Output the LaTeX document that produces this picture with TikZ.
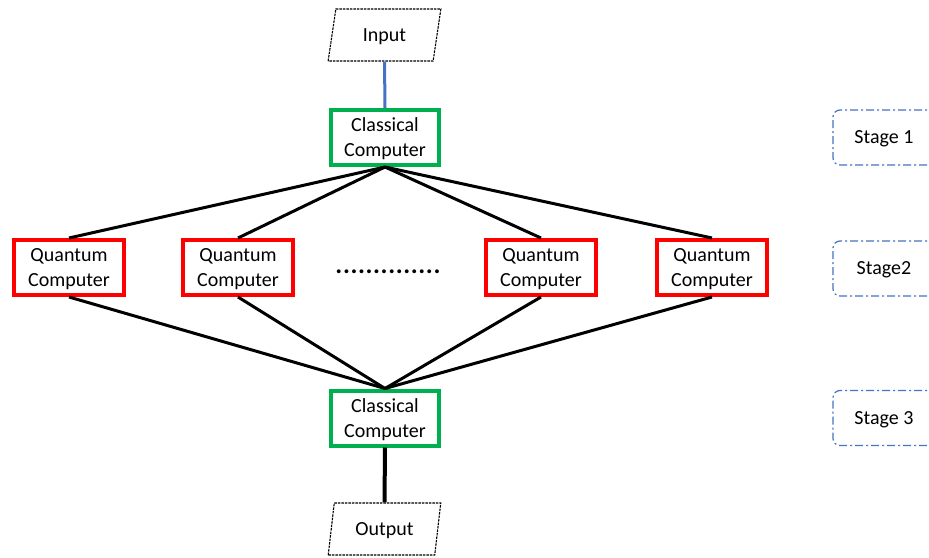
\documentclass[tikz,border=0pt]{standalone}
\usepackage{fontspec}
\setmainfont{Carlito}
\usetikzlibrary{shapes.geometric}
\definecolor{cgreen}{RGB}{0,176,80}
\definecolor{cred}{RGB}{255,0,0}
\definecolor{cblue}{RGB}{68,114,196}
\tikzset{
  txt/.style={font=\fontsize{20}{25}\selectfont, align=center, text depth=0pt},
  classical/.style={txt, draw=cgreen, line width=4pt, minimum width=108pt, minimum height=55pt, inner sep=0pt},
  quantum/.style={txt, draw=cred, line width=4pt, minimum width=110pt, minimum height=55pt, inner sep=0pt},
  iobox/.style={txt, draw=black, dash pattern=on 2.5pt off 1pt, line width=1.1pt, trapezium, trapezium left angle=75, trapezium right angle=105, trapezium stretches=true, minimum width=113pt, minimum height=52pt, inner sep=0pt},
  stagebox/.style={txt, draw=cblue, line width=1.2pt, rounded corners=7pt, dash pattern=on 8pt off 3pt on 2pt off 3pt, minimum width=112pt, minimum height=55pt, inner sep=0pt},
  link/.style={line width=3pt, black},
}
\begin{document}
\begin{tikzpicture}[x=1pt,y=-1pt]
\clip (0,0) rectangle (929,557);
\useasboundingbox (0,0) rectangle (929,557);
\node[iobox] (in) at (384.5,35) {Input};
\node[classical] (c1) at (385,137.5) {Classical\\Computer};
\node[quantum] (q1) at (69,267.5) {Quantum\\Computer};
\node[quantum] (q2) at (238,267.5) {Quantum\\Computer};
\node[quantum] (q3) at (541,267.5) {Quantum\\Computer};
\node[quantum] (q4) at (712,267.5) {Quantum\\Computer};
\node[font=\fontsize{26}{30}\selectfont\bfseries, inner sep=0pt, anchor=base] (dots) at (388,273) {.\kern0.6pt.\kern0.6pt.\kern0.6pt.\kern0.6pt.\kern0.6pt.\kern0.6pt.\kern0.6pt.\kern0.6pt.\kern0.6pt.\kern0.6pt.\kern0.6pt.\kern0.6pt.\kern0.6pt.};
\node[classical] (c2) at (385,418) {Classical\\Computer};
\node[iobox] (out) at (384.5,529) {Output};
\node[stagebox] (s1) at (889,137.5) {\hspace*{-10pt}Stage 1};
\node[stagebox] (s2) at (889,268.5) {\hspace*{-10pt}Stage2};
\node[stagebox] (s3) at (889,418) {\hspace*{-10pt}Stage 3};
\draw[cblue, line width=3pt] (in.south) -- (c1.north);
\foreach \q in {q1,q2,q3,q4}{
  \draw[link] (c1.south) -- (\q.north);
  \draw[link] (\q.south) -- (c2.north);
}
\draw[link, line width=4pt] (c2.south) -- (out.north);
\end{tikzpicture}
\end{document}
